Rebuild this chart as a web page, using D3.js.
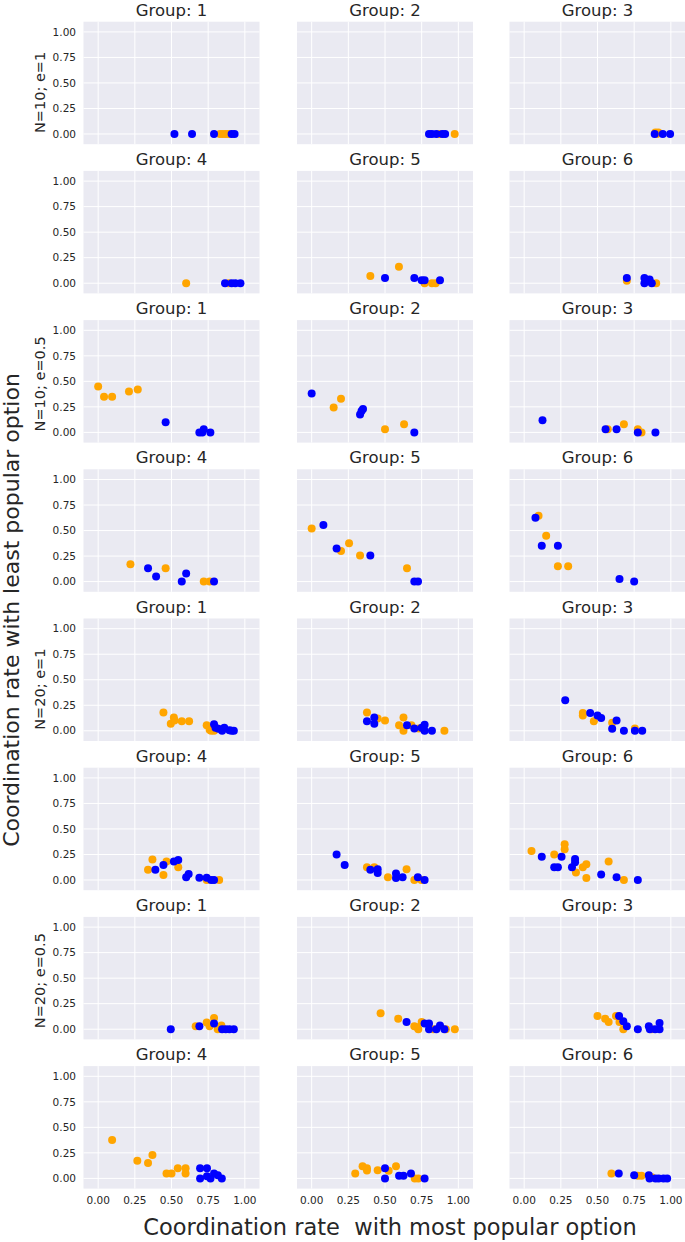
<!DOCTYPE html>
<html>
<head>
<meta charset="utf-8">
<script src="https://cdn.jsdelivr.net/npm/d3@7"></script>
<style>
  html, body { margin: 0; padding: 0; background: #ffffff; }
  svg { display: block; font-family: "DejaVu Sans", sans-serif; }
</style>
</head>
<body>
<svg id="chart" width="685" height="1242"></svg>
<script>
// ---------------- DATA ----------------
const configLabels = ["N=10; e=1", "N=10; e=0.5", "N=20; e=1", "N=20; e=0.5"];
const groupLabels = ["Group: 1", "Group: 2", "Group: 3", "Group: 4", "Group: 5", "Group: 6"];
const tickValues = [0, 0.25, 0.5, 0.75, 1.0];
const tickLabels = ["0.00", "0.25", "0.50", "0.75", "1.00"];
const xAxisTitle = "Coordination rate  with most popular option";
const yAxisTitle = "Coordination rate with least popular option";

// Each array: one entry per group (1..6), each a list of [most popular rate, least popular rate]
const n10e1Orange = [
  [[0.83,0],[0.85,0],[0.87,0],[0.89,0]],
  [[0.87,0],[0.975,0]],
  [[0.895,0.015],[0.915,0.015],[0.905,0]],
  [[0.60,0],[0.89,0]],
  [[0.40,0.07],[0.595,0.16],[0.77,0],[0.82,0],[0.845,0]],
  [[0.70,0.025],[0.84,0.02],[0.90,0]]
];
const n10e1Blue = [
  [[0.52,0],[0.64,0],[0.79,0],[0.91,0],[0.93,0]],
  [[0.80,0],[0.82,0],[0.85,0],[0.89,0],[0.91,0]],
  [[0.89,0],[0.945,0],[0.995,0]],
  [[0.865,0],[0.91,0],[0.935,0],[0.97,0]],
  [[0.50,0.05],[0.70,0.05],[0.75,0.03],[0.77,0.03],[0.875,0.03]],
  [[0.70,0.05],[0.82,0.05],[0.855,0.035],[0.82,0],[0.87,0]]
];
const n10e05Orange = [
  [[0.0,0.45],[0.04,0.35],[0.095,0.35],[0.21,0.40],[0.27,0.42]],
  [[0.15,0.245],[0.20,0.33],[0.50,0.03],[0.63,0.08]],
  [[0.57,0.03],[0.68,0.08],[0.775,0.03],[0.80,0]],
  [[0.22,0.17],[0.46,0.13],[0.72,0],[0.76,0]],
  [[0.0,0.52],[0.20,0.30],[0.255,0.375],[0.33,0.255],[0.65,0.13]],
  [[0.098,0.645],[0.15,0.45],[0.23,0.15],[0.30,0.15]]
];
const n10e05Blue = [
  [[0.46,0.10],[0.69,0],[0.72,0.03],[0.71,0],[0.765,0]],
  [[0.0,0.38],[0.33,0.175],[0.34,0.21],[0.35,0.23],[0.70,0]],
  [[0.125,0.12],[0.555,0.03],[0.63,0.03],[0.775,0],[0.895,0]],
  [[0.34,0.13],[0.395,0.05],[0.57,0],[0.60,0.08],[0.79,0]],
  [[0.08,0.555],[0.17,0.325],[0.40,0.255],[0.70,0],[0.725,0]],
  [[0.077,0.625],[0.12,0.35],[0.23,0.35],[0.65,0.025],[0.75,0]]
];
const n20e1Orange = [
  [[0.445,0.178],[0.495,0.07],[0.516,0.13],[0.52,0.10],[0.57,0.094],[0.62,0.094],[0.74,0.055],[0.76,0.01],[0.77,0],[0.79,0]],
  [[0.377,0.178],[0.45,0.12],[0.50,0.10],[0.596,0.055],[0.626,0.13],[0.626,0],[0.68,0.055],[0.73,0.023],[0.905,0]],
  [[0.40,0.175],[0.40,0.15],[0.475,0.094],[0.60,0.08],[0.755,0.023]],
  [[0.34,0.10],[0.37,0.20],[0.445,0.05],[0.466,0.18],[0.546,0.125],[0.74,0],[0.825,0]],
  [[0.377,0.125],[0.427,0.125],[0.52,0.026],[0.647,0.105],[0.70,0],[0.748,0]],
  [[0.05,0.283],[0.205,0.25],[0.276,0.35],[0.276,0.30],[0.353,0.074],[0.40,0.125],[0.424,0.155],[0.424,0.02],[0.576,0.18],[0.68,0]]
];
const n20e1Blue = [
  [[0.79,0.065],[0.80,0.03],[0.82,0.02],[0.845,0],[0.86,0.03],[0.895,0.005],[0.91,0],[0.925,0]],
  [[0.377,0.094],[0.427,0.13],[0.427,0.068],[0.65,0.055],[0.70,0.023],[0.75,0.03],[0.77,0.058],[0.77,0],[0.82,0]],
  [[0.28,0.30],[0.45,0.175],[0.50,0.15],[0.525,0.126],[0.60,0.02],[0.63,0.10],[0.68,0],[0.755,0],[0.805,0]],
  [[0.39,0.10],[0.445,0.148],[0.516,0.18],[0.546,0.196],[0.60,0.026],[0.617,0.058],[0.69,0.023],[0.74,0.023],[0.77,0],[0.79,0]],
  [[0.17,0.25],[0.225,0.148],[0.40,0.10],[0.45,0.105],[0.45,0.068],[0.575,0.064],[0.575,0.02],[0.62,0.026],[0.724,0.026],[0.77,0]],
  [[0.12,0.228],[0.205,0.125],[0.23,0.125],[0.255,0.228],[0.326,0.125],[0.347,0.206],[0.347,0.175],[0.525,0.055],[0.63,0.026],[0.775,0]]
];
const n20e05Orange = [
  [[0.665,0.03],[0.74,0.065],[0.76,0.03],[0.79,0.11],[0.815,0],[0.84,0.035]],
  [[0.47,0.155],[0.59,0.103],[0.70,0.03],[0.72,0.02],[0.727,0],[0.75,0.07],[0.83,0],[0.915,0],[0.976,0]],
  [[0.50,0.13],[0.552,0.103],[0.576,0.07],[0.626,0.13],[0.65,0.07],[0.676,0],[0.87,0]],
  [[0.095,0.377],[0.267,0.173],[0.34,0.15],[0.37,0.23],[0.466,0.048],[0.50,0.048],[0.543,0.10],[0.596,0.10],[0.596,0.048]],
  [[0.297,0.048],[0.347,0.118],[0.377,0.10],[0.377,0.077],[0.45,0.08],[0.525,0.074],[0.575,0.118],[0.703,0],[0.727,0]],
  [[0.595,0.048],[0.775,0.025],[0.80,0.025],[0.87,0.01]]
];
const n20e05Blue = [
  [[0.495,0],[0.69,0.03],[0.79,0.055],[0.845,0],[0.87,0],[0.895,0],[0.925,0]],
  [[0.647,0.07],[0.77,0.055],[0.80,0.055],[0.80,0],[0.85,0],[0.875,0.035],[0.905,0]],
  [[0.647,0.13],[0.676,0.078],[0.70,0.03],[0.775,0],[0.85,0.03],[0.857,0],[0.893,0],[0.923,0.06],[0.923,0]],
  [[0.695,0.10],[0.742,0.10],[0.695,0],[0.742,0.022],[0.766,0],[0.79,0.048],[0.816,0.032],[0.843,0]],
  [[0.50,0.10],[0.50,0],[0.596,0.026],[0.626,0.026],[0.677,0.048],[0.77,0]],
  [[0.645,0.048],[0.75,0.03],[0.85,0.03],[0.855,0],[0.895,0],[0.917,0],[0.95,0],[0.975,0]]
];

const configOrange = [n10e1Orange, n10e05Orange, n20e1Orange, n20e05Orange];
const configBlue = [n10e1Blue, n10e05Blue, n20e1Blue, n20e05Blue];

// ---------------- LAYOUT ----------------
const svg = d3.select("#chart");
const colLefts = [83.5, 297, 509.5];
const panelW = 176;
const panelH = 122.5;
const firstTop = 21.7;
const rowStep = 149.2;
const nRows = 8;
const bg = "#EAEAF2";
const textColor = "#262626";
const orangeColor = "#FFA500";
const blueColor = "#0000FF";
const radius = 4;

for (let r = 0; r < nRows; r++) {
  const cfg = Math.floor(r / 2);
  for (let c = 0; c < 3; c++) {
    const g = (r % 2) * 3 + c;
    const top = firstTop + r * rowStep;
    const left = colLefts[c];
    const x = d3.scaleLinear().domain([-0.1, 1.1]).range([left, left + panelW]);
    const y = d3.scaleLinear().domain([-0.1, 1.1]).range([top + panelH, top]);
    const p = svg.append("g");

    p.append("rect").attr("x", left).attr("y", top)
      .attr("width", panelW).attr("height", panelH).attr("fill", bg);

    // grid
    p.selectAll(".vg").data(tickValues).enter().append("line")
      .attr("x1", d => x(d)).attr("x2", d => x(d))
      .attr("y1", top).attr("y2", top + panelH)
      .attr("stroke", "#ffffff").attr("stroke-width", 1);
    p.selectAll(".hg").data(tickValues).enter().append("line")
      .attr("y1", d => y(d)).attr("y2", d => y(d))
      .attr("x1", left).attr("x2", left + panelW)
      .attr("stroke", "#ffffff").attr("stroke-width", 1);

    // points: orange first, blue on top
    p.selectAll(".o").data(configOrange[cfg][g]).enter().append("circle")
      .attr("cx", d => x(d[0])).attr("cy", d => y(d[1])).attr("r", radius)
      .attr("fill", orangeColor);
    p.selectAll(".b").data(configBlue[cfg][g]).enter().append("circle")
      .attr("cx", d => x(d[0])).attr("cy", d => y(d[1])).attr("r", radius)
      .attr("fill", blueColor);

    // title
    p.append("text").attr("x", left + panelW / 2).attr("y", top - 6)
      .attr("text-anchor", "middle").attr("font-size", 16.5).attr("fill", textColor)
      .text(groupLabels[g]);

    // y tick labels (first column only)
    if (c === 0) {
      p.selectAll(".yt").data(tickValues).enter().append("text")
        .attr("x", left - 7.5).attr("y", d => y(d)).attr("dy", "0.35em")
        .attr("text-anchor", "end").attr("font-size", 10.5).attr("fill", textColor)
        .text((d, i) => tickLabels[i]);
    }
    // x tick labels (bottom row only)
    if (r === nRows - 1) {
      p.selectAll(".xt").data(tickValues).enter().append("text")
        .attr("x", d => x(d)).attr("y", top + panelH + 15)
        .attr("text-anchor", "middle").attr("font-size", 10.5).attr("fill", textColor)
        .text((d, i) => tickLabels[i]);
    }
    // row config label (starts at the 0.00 level, reads upward)
    if (c === 0 && r % 2 === 0) {
      p.append("text")
        .attr("transform", `translate(${45},${y(0) - 1}) rotate(-90)`)
        .attr("text-anchor", "start").attr("font-size", 14.5).attr("fill", textColor)
        .text(configLabels[cfg]);
    }
  }
}

// overall axis titles
svg.append("text").attr("x", 390).attr("y", 1235)
  .attr("text-anchor", "middle").attr("font-size", 22.5).attr("fill", textColor)
  .attr("xml:space", "preserve").style("white-space", "pre")
  .text(xAxisTitle);
svg.append("text")
  .attr("transform", `translate(19,610) rotate(-90)`)
  .attr("text-anchor", "middle").attr("font-size", 22).attr("fill", textColor)
  .text(yAxisTitle);
</script>
</body>
</html>
